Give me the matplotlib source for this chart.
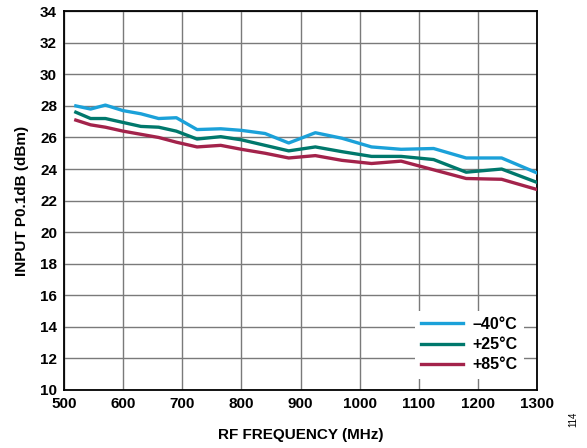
import numpy as np
import matplotlib
matplotlib.use('Agg')
import matplotlib.pyplot as plt

plt.rcParams['font.family'] = ['Liberation Sans', 'DejaVu Sans']

# frequency points (MHz)
freq = [520, 545, 570, 600, 630, 660, 690, 725, 765, 800,
        840, 880, 925, 970, 1020, 1070, 1125, 1180, 1240, 1300]

# input P0.1dB (dBm) per temperature
p_m40 = [28.0, 27.8, 28.05, 27.7, 27.5, 27.2, 27.25, 26.5, 26.55, 26.45,
         26.25, 25.65, 26.3, 25.95, 25.4, 25.25, 25.3, 24.7, 24.7, 23.75]
p_p25 = [27.6, 27.2, 27.2, 26.95, 26.7, 26.65, 26.4, 25.9, 26.05, 25.85,
         25.5, 25.15, 25.4, 25.1, 24.8, 24.8, 24.6, 23.8, 24.0, 23.15]
p_p85 = [27.1, 26.8, 26.65, 26.4, 26.2, 26.0, 25.7, 25.4, 25.5, 25.25,
         25.0, 24.7, 24.85, 24.55, 24.35, 24.5, 23.95, 23.4, 23.35, 22.7]

labels = ['\u201340°C', '+25°C', '+85°C']
colors = ['#1ba1d9', '#00786c', '#a3234b']

fig = plt.figure(figsize=(5.87, 4.48), dpi=100)
ax = fig.add_axes([0.109, 0.1295, 0.806, 0.8455])

for series, lab, col in zip([p_m40, p_p25, p_p85], labels, colors):
    ax.plot(freq, series, color=col, lw=2.4, label=lab, zorder=3)

ax.set_xlim(500, 1300)
ax.set_ylim(10, 34)
ax.set_xticks(np.arange(500, 1301, 100))
ax.set_yticks(np.arange(10, 35, 2))
ax.grid(True, color='#7a7a7a', lw=1.0)
ax.tick_params(length=0, labelsize=11, pad=5)
for t in ax.get_xticklabels() + ax.get_yticklabels():
    t.set_fontweight('bold')
for s in ax.spines.values():
    s.set_color('black')
    s.set_linewidth(1.3)

ax.set_xlabel('RF FREQUENCY (MHz)', fontsize=11, fontweight='bold', labelpad=12)
ax.set_ylabel('INPUT P0.1dB (dBm)', fontsize=11, fontweight='bold', labelpad=8)

leg = ax.legend(loc='lower right', bbox_to_anchor=(0.972, 0.03), frameon=True,
                fancybox=False, edgecolor='none', facecolor='white', framealpha=1,
                handlelength=2.6, handletextpad=0.6, labelspacing=0.32,
                borderpad=0.4, borderaxespad=0.0,
                prop={'weight': 'bold', 'size': 11.5})
leg.set_zorder(5)

fig.text(0.976, 0.065, '114', rotation=90, fontsize=7, ha='center', va='center')

fig.savefig('out.png', dpi=100)
